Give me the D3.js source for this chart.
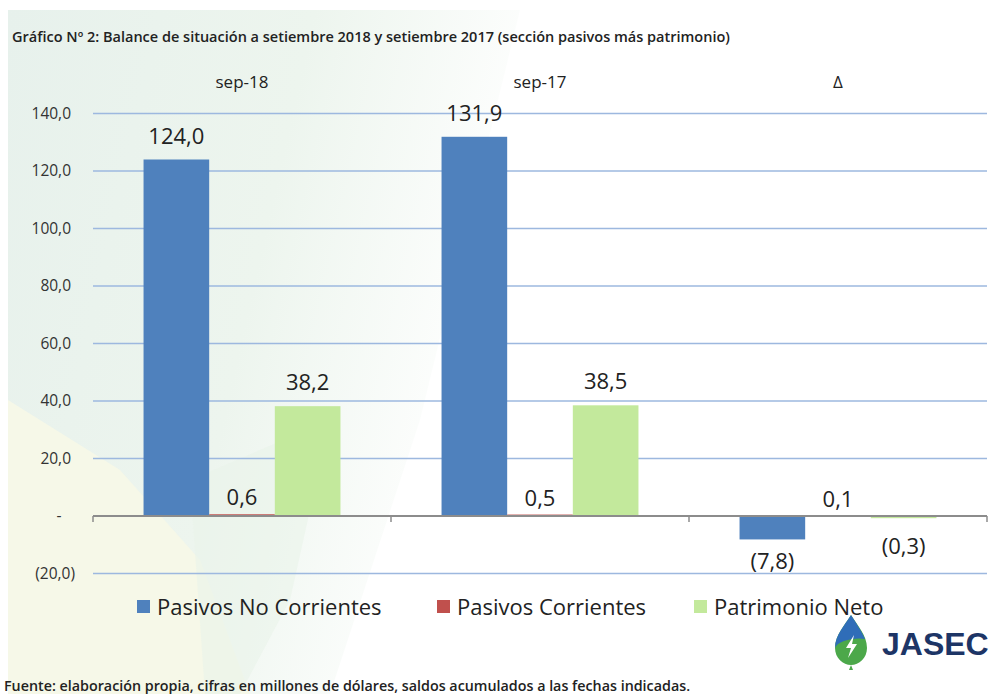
<!DOCTYPE html>
<html>
<head>
<meta charset="utf-8">
<script src="https://cdn.jsdelivr.net/npm/d3@7"></script>
<style>
  body { margin: 0; background: #ffffff; }
  svg { display: block; font-family: "Open Sans", sans-serif; }
</style>
</head>
<body>
<div id="chart"></div>
<script>
// data
var categories = ["sep-18", "sep-17", "\u0394"];
var seriesNames = ["Pasivos No Corrientes", "Pasivos Corrientes", "Patrimonio Neto"];
var pasivosNoCorrientes = [124.0, 131.9, -7.8];
var pasivosCorrientes = [0.6, 0.5, 0.1];
var patrimonioNeto = [38.2, 38.5, -0.3];
var yTicks = [-20, 0, 20, 40, 60, 80, 100, 120, 140];

var seriesValues = [pasivosNoCorrientes, pasivosCorrientes, patrimonioNeto];
var colors = ["#4f81bd", "#c0504d", "#c3e99c"];

var width = 995, height = 694;

var svg = d3.select("#chart").append("svg")
  .attr("width", width)
  .attr("height", height);

// soft background decoration
var defs = svg.append("defs");
var grad = defs.append("linearGradient").attr("id", "bgGreen")
  .attr("x1", "0").attr("x2", "1").attr("y1", "0").attr("y2", "0.3");
grad.append("stop").attr("offset", "0%").attr("stop-color", "#e7f1ec");
grad.append("stop").attr("offset", "55%").attr("stop-color", "#edf5ee");
grad.append("stop").attr("offset", "100%").attr("stop-color", "#ffffff");

svg.append("path")
  .attr("d", "M8,10 L520,10 L420,420 L330,694 L8,694 Z")
  .attr("fill", "url(#bgGreen)");
svg.append("path")
  .attr("d", "M8,400 L120,470 L200,560 L250,694 L8,694 Z")
  .attr("fill", "#f6f8e8");
svg.append("path")
  .attr("d", "M190,480 L330,420 L290,600 L240,694 L205,694 Z")
  .attr("fill", "#eaf4ea").attr("opacity", 0.6);

var locale = d3.formatLocale({ decimal: ",", thousands: ".", grouping: [3] });
var f1 = locale.format(",.1f");
function fmt(v) {
  if (v === 0) return "-";
  if (v < 0) return "(" + f1(-v) + ")";
  return f1(v);
}

var x0 = d3.scaleBand().domain(categories).range([93, 987]).padding(0);
var x1 = d3.scaleBand().domain(seriesNames).range([0, x0.bandwidth()])
  .paddingInner(0).paddingOuter(0.77);
var y = d3.scaleLinear().domain([-20, 140]).range([573.5, 113.5]);

// gridlines
svg.append("g").selectAll("line")
  .data(yTicks.filter(function(d) { return d !== 0; }))
  .enter().append("line")
  .attr("x1", 93).attr("x2", 987)
  .attr("y1", function(d) { return y(d); })
  .attr("y2", function(d) { return y(d); })
  .attr("stroke", "#9db8df")
  .attr("stroke-width", 1.5);

// y tick labels
svg.append("g").selectAll("text")
  .data(yTicks)
  .enter().append("text")
  .attr("x", function(d) { return d === 0 ? 59 : (d < 0 ? 75 : 71); })
  .attr("y", function(d) { return y(d) + 5; })
  .attr("text-anchor", function(d) { return d === 0 ? "middle" : "end"; })
  .style("font-size", "15.5px")
  .style("fill", "#333")
  .text(fmt);

// bars
var rows = [];
categories.forEach(function(c, i) {
  seriesNames.forEach(function(s, j) {
    rows.push({ cat: c, series: s, idx: j, value: seriesValues[j][i] });
  });
});

svg.append("g").selectAll("rect")
  .data(rows)
  .enter().append("rect")
  .attr("x", function(d) { return x0(d.cat) + x1(d.series); })
  .attr("y", function(d) { return d.value < 0 ? y(0) + 1 : y(d.value); })
  .attr("width", x1.bandwidth())
  .attr("height", function(d) { return Math.max(1.2, Math.abs(y(d.value) - y(0))); })
  .attr("fill", function(d) { return colors[d.idx]; });

// category axis line with ticks
svg.append("line")
  .attr("x1", 93).attr("x2", 987)
  .attr("y1", y(0)).attr("y2", y(0))
  .attr("stroke", "#8c8c8c").attr("stroke-width", 1.8);
var tickXs = categories.map(function(c) { return x0(c); }).concat([x0.range()[1]]);
svg.append("g").selectAll("line")
  .data(tickXs)
  .enter().append("line")
  .attr("x1", function(d) { return d; }).attr("x2", function(d) { return d; })
  .attr("y1", y(0)).attr("y2", y(0) + 6)
  .attr("stroke", "#8c8c8c").attr("stroke-width", 1.5);

// value labels
svg.append("g").selectAll("text")
  .data(rows)
  .enter().append("text")
  .attr("x", function(d) { return x0(d.cat) + x1(d.series) + x1.bandwidth() / 2; })
  .attr("y", function(d) {
    var small = Math.abs(d.value) < 1;
    if (d.value >= 0) return y(d.value) - (small ? 9 : 16);
    return y(d.value) + (small ? 37 : 31);
  })
  .attr("text-anchor", "middle")
  .style("font-size", "22px")
  .style("fill", "#222")
  .text(function(d) { return fmt(d.value); });

// category labels at top
svg.append("g").selectAll("text")
  .data(categories)
  .enter().append("text")
  .attr("x", function(d) { return x0(d) + x0.bandwidth() / 2; })
  .attr("y", 88)
  .attr("text-anchor", "middle")
  .style("font-size", "17px")
  .style("fill", "#222")
  .text(function(d) { return d; });

// title
svg.append("text")
  .attr("x", 12).attr("y", 42)
  .style("font-size", "14.5px")
  .style("font-weight", "600")
  .style("fill", "#222")
  .text("Gr\u00e1fico N\u00ba 2: Balance de situaci\u00f3n a setiembre 2018 y setiembre 2017  (secci\u00f3n pasivos m\u00e1s patrimonio)");

// legend
var legendX = [137, 437, 694];
var legend = svg.append("g").selectAll("g")
  .data(seriesNames)
  .enter().append("g")
  .attr("transform", function(d, i) { return "translate(" + legendX[i] + ",600)"; });
legend.append("rect")
  .attr("width", 13).attr("height", 13)
  .attr("fill", function(d, i) { return colors[i]; });
legend.append("text")
  .attr("x", 20).attr("y", 15)
  .style("font-size", "22px")
  .style("fill", "#222")
  .text(function(d) { return d; });

// footer
svg.append("text")
  .attr("x", 4).attr("y", 691)
  .style("font-size", "14.3px")
  .style("font-weight", "600")
  .style("fill", "#222")
  .text("Fuente: elaboraci\u00f3n propia, cifras en millones de d\u00f3lares, saldos acumulados a las fechas indicadas.");

// logo
var logo = svg.append("g").attr("transform", "translate(851,615)");
logo.append("path")
  .attr("d", "M0,0 C-6,10 -16,20 -16,33 C-16,43 -8,50 0,50 C8,50 16,43 16,33 C16,20 6,10 0,0 Z")
  .attr("fill", "#4ca84a");
logo.append("path")
  .attr("d", "M0,0 C-6,10 -16,20 -16,33 C-14,26 4,22 14,24 C10,15 5,8 0,0 Z")
  .attr("fill", "#2f6db8");
logo.append("path")
  .attr("d", "M3,20 L-5,33 L0,33 L-3,43 L6,29 L1,29 Z")
  .attr("fill", "#ffffff");
logo.append("path")
  .attr("d", "M0,50 L-2,55 L2,55 Z")
  .attr("fill", "#4ca84a");
svg.append("text")
  .attr("x", 882).attr("y", 655)
  .style("font-family", "'Liberation Sans', Arial, sans-serif")
  .style("font-size", "32px")
  .style("font-weight", "bold")
  .style("fill", "#1d3566")
  .text("JASEC");
</script>
</body>
</html>
